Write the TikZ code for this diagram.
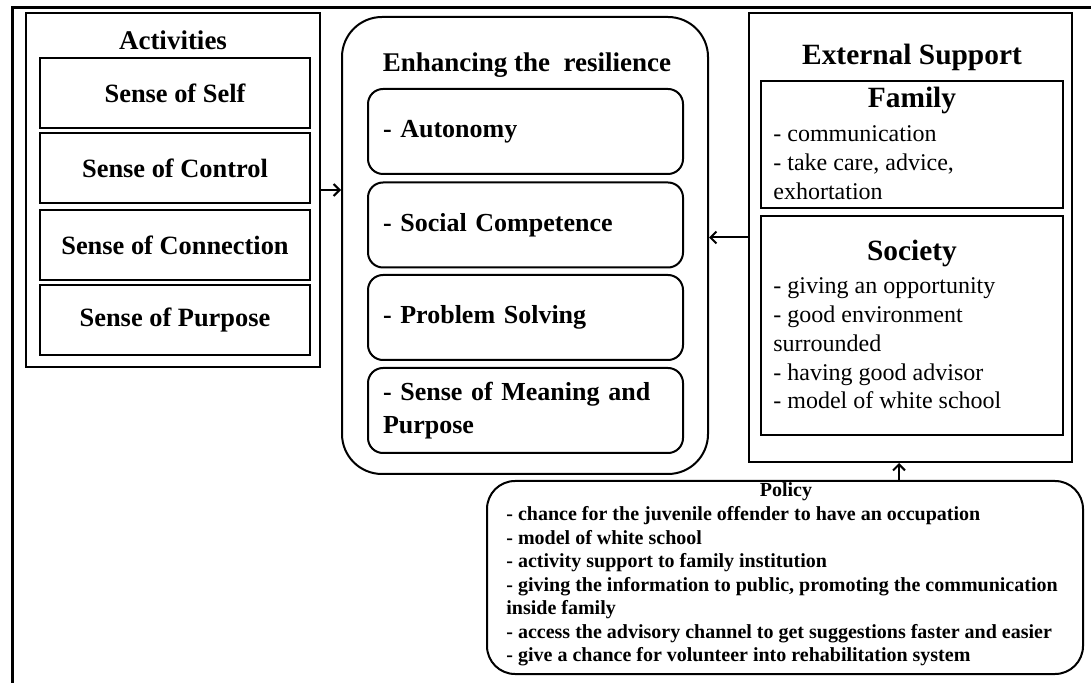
\documentclass[tikz,border=0pt]{standalone}
\usepackage{fontspec}
\setmainfont{Liberation Serif}
\usetikzlibrary{arrows.meta,positioning}
\begin{document}
\begin{tikzpicture}[x=0.5pt,y=-0.5pt]
	\tikzset{box/.style = {draw,line width=1pt,inner sep=0pt}}
	\tikzset{actbox/.style = {box,minimum width=135pt,minimum height=35pt,font=\fontsize{13.2}{16}\selectfont\bfseries}}
	\tikzset{resbox/.style = {box,rounded corners=7.5pt,minimum width=157.5pt,minimum height=42.5pt,text width=142.5pt,align=left,font=\fontsize{13}{16.5}\selectfont\bfseries}}
	\tikzset{heading/.style = {inner sep=0pt,font=\fontsize{13.5}{16}\selectfont\bfseries}}
	\tikzset{bigheading/.style = {inner sep=0pt,font=\fontsize{14.7}{17}\selectfont\bfseries}}
	\tikzset{items/.style = {anchor=west,inner sep=0pt,align=left,font=\fontsize{12}{14.4}\selectfont}}
	\tikzset{edge/.style = {-{Straight Barb[length=3pt,width=6pt]},line width=1pt}}
	\useasboundingbox (0,0) rectangle (1091,683);
	\draw[line width=1.5pt] (12,683) -- (12,8) -- (1091,8);
	% activities
	\node[box,minimum width=147pt,minimum height=177pt] (acts) at (173,190) {};
	\node[heading] (actstitle) at (173,40) {Activities};
	\node[actbox] (self) at (175,93) {Sense of Self};
	\node[actbox] (control) at (175,168.5) {Sense of Control};
	\node[actbox] (connection) at (175,245) {Sense of Connection};
	\node[actbox] (purpose) at (175,320) {Sense of Purpose};
	% resilience
	\node[box,rounded corners=20pt,minimum width=183pt,minimum height=228.5pt] (resil) at (525,245.5) {};
	\node[heading] (resiltitle) at (527,65) {Enhancing the~~resilience};
	\node[resbox] (autonomy) at (525.5,131.5) {- Autonomy};
	\node[resbox] (social) at (525.5,225) {- Social Competence};
	\node[resbox] (problem) at (525.5,317.5) {- Problem Solving};
	\node[resbox] (meaning) at (525.5,410.5) {- Sense of Meaning and\\Purpose};
	% external support
	\node[box,minimum width=161.5pt,minimum height=224.5pt] (ext) at (910.5,237.5) {};
	\node[bigheading] (exttitle) at (912,57) {External Support};
	\node[box,minimum width=151pt,minimum height=63.5pt] (fam) at (912,144.5) {};
	\node[bigheading] (famtitle) at (912,100) {Family};
	\node[items] (famitems) at (773,162.5) {- communication\\- take care, advice,\\exhortation};
	\node[box,minimum width=151pt,minimum height=109.5pt] (soc) at (912,325.5) {};
	\node[bigheading] (soctitle) at (912,253) {Society};
	\node[items] (socitems) at (773,343.5) {- giving an opportunity\\- good environment\\surrounded\\- having good advisor\\- model of white school};
	% policy
	\node[box,rounded corners=14pt,minimum width=298pt,minimum height=96.5pt] (pol) at (785,577.5) {};
	\node[inner sep=0pt,font=\fontsize{10}{12}\selectfont\bfseries] (poltitle) at (786,492) {Policy};
	\node[items,font=\fontsize{10}{11.75}\selectfont\bfseries] (politems) at (506,586.5) {- chance for the juvenile offender to have an occupation\\- model of white school\\- activity support to family institution\\- giving the information to public, promoting the communication\\inside family\\- access the advisory channel to get suggestions faster and easier\\- give a chance for volunteer into rehabilitation system};
	% links
	\draw[edge] (acts.east) -- (acts.east -| resil.west);
	\draw[edge] (ext.west) -- (ext.west -| resil.east);
	\draw[edge] ([xshift=-5.75pt]ext.south |- pol.north) -- ([xshift=-5.75pt]ext.south);
\end{tikzpicture}
\end{document}
